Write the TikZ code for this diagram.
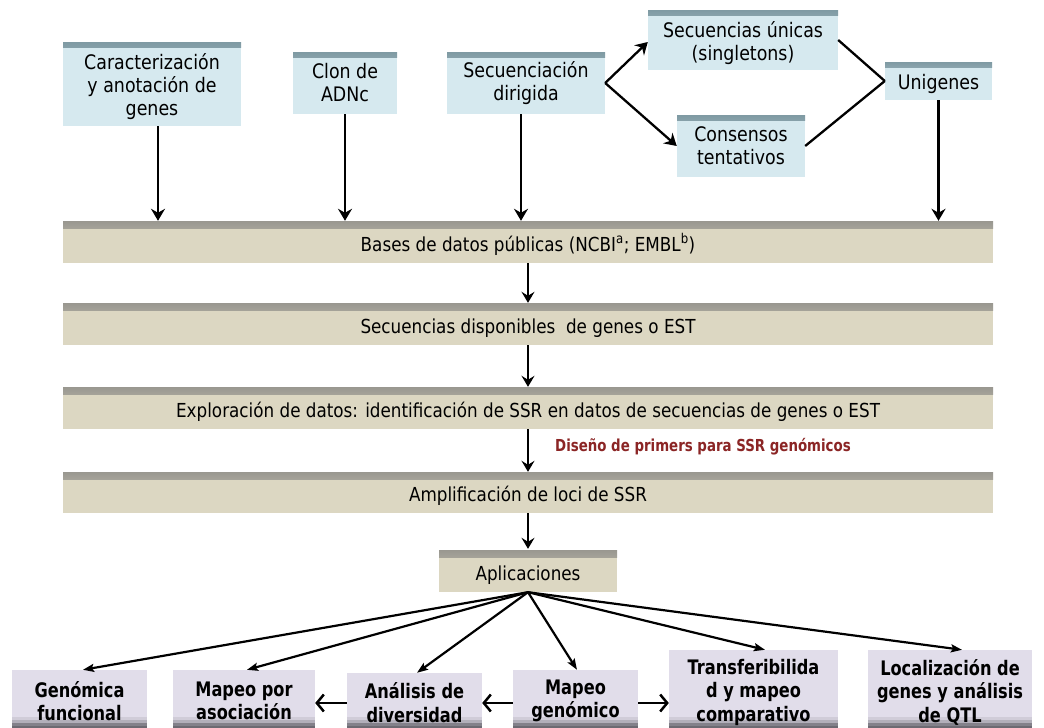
\documentclass[tikz,border=0pt]{standalone}
\usepackage{fontspec}
\setmainfont{DejaVu Sans}[FakeStretch=0.87]
\newfontfamily\bsf{DejaVu Sans}[FakeStretch=0.81]
\usetikzlibrary{arrows.meta}
\definecolor{bluebg}{HTML}{D6E9EF}
\definecolor{bluetop}{HTML}{7F9AA3}
\definecolor{barbg}{HTML}{DCD7C2}
\definecolor{bartop}{HTML}{999790}
\definecolor{lavbg}{HTML}{E1DDEA}
\definecolor{lavbot}{HTML}{6C6A72}
\definecolor{redtxt}{HTML}{8B2525}
\tikzset{
  bluebox/.style={fill=bluebg, inner sep=0pt, align=center,
    font=\fontsize{20}{23}\selectfont,
    path picture={\shade[top color=bluetop, bottom color=bluebg]
      (path picture bounding box.north west) rectangle ([yshift=-5pt]path picture bounding box.north east);}},
  btxt/.style={inner sep=0pt, align=center, font=\fontsize{20}{23}\selectfont},
  barbox/.style={fill=barbg, inner sep=0pt, align=center,
    minimum height=42pt, text height=18.5pt, text depth=0pt,
    font=\fontsize{19.3}{23}\selectfont,
    path picture={\shade[top color=bartop, bottom color=barbg]
      (path picture bounding box.north west) rectangle ([yshift=-7pt]path picture bounding box.north east);}},
  appbox/.style={fill=lavbg, inner sep=0pt, align=center,
    font=\bsf\bfseries\fontsize{20}{22.5}\selectfont},
  atxt/.style={inner sep=0pt, align=center, font=\bsf\bfseries\fontsize{20}{23.5}\selectfont},
  toparr/.style={line width=2.3pt, -{Stealth[length=12pt,width=14pt,inset=4pt]}},
  midarr/.style={line width=2pt, -{Stealth[length=11pt,width=13pt,inset=4pt]}},
  fanarr/.style={line width=2.2pt, -{Stealth[length=11pt,width=8pt,inset=2pt]}},
  hzarr/.style={line width=2.5pt, -{Straight Barb[length=7pt,width=17pt,line width=2.5pt]}},
  plain/.style={line width=2.3pt}
}
\begin{document}
\begin{tikzpicture}[x=1pt,y=-1pt]
\useasboundingbox[fill=white] (0,0) rectangle (1044,728);

% top boxes
\node[bluebox, minimum width=178pt, minimum height=84pt,
  label={[btxt, yshift=-3pt]center:{Caracterización\\y anotación de\\genes}}] (car) at (152,84) {};
\node[bluebox, minimum width=104pt, minimum height=62pt] (clon) at (345,83) {Clon de\\ADNc};
\node[bluebox, minimum width=158pt, minimum height=62pt] (secd) at (526,83) {Secuenciación\\dirigida};
\node[bluebox, minimum width=190pt, minimum height=60pt,
  label={[btxt, yshift=-3pt]center:{Secuencias únicas\\(singletons)}}] (sing) at (743,40) {};
\node[bluebox, minimum width=128pt, minimum height=62pt] (cons) at (741,146) {Consensos\\tentativos};
\node[bluebox, minimum width=107pt, minimum height=38pt, text height=17pt, text depth=0pt] (uni) at (938.5,81) {Unigenes};

% bars
\node[barbox, minimum width=930pt] (bar1) at (528,242) {Bases de datos públicas (NCBI\textsuperscript{a}; EMBL\textsuperscript{b})};
\node[barbox, minimum width=930pt] (bar2) at (528,324) {Secuencias disponibles\ \ de genes o EST};
\node[barbox, minimum width=930pt] (bar3) at (528,408) {Exploración de datos: identificación de SSR en datos de secuencias de genes o EST};
\node[barbox, minimum width=930pt, minimum height=41pt] (bar4) at (528,492.5) {Amplificación de loci de SSR};
\node[barbox, minimum width=178pt] (apl) at (528,571) {Aplicaciones};
\node[anchor=west, text=redtxt, inner sep=0pt, font=\bsf\bfseries\fontsize{16.5}{18}\selectfont] (dis) at (555,447) {Diseño de primers para SSR genómicos};

% bottom boxes
\node[appbox, minimum width=135pt, minimum height=58pt] (gen) at (79.5,699) {};
\node[appbox, minimum width=142pt, minimum height=58pt] (aso) at (244,699) {};
\node[appbox, minimum width=135pt, minimum height=55pt] (ana) at (414.5,700.5) {};
\node[appbox, minimum width=125pt, minimum height=58pt] (gmc) at (575.5,699) {};
\node[appbox, minimum width=169pt, minimum height=78pt] (tra) at (753.5,689) {};
\node[appbox, minimum width=164pt, minimum height=78pt] (loc) at (950,689) {};
\foreach \n in {gen,aso,ana,gmc,tra,loc}{
  \fill[lavbot!15!lavbg] ([yshift=11pt]\n.south west) rectangle ([yshift=8pt]\n.south east);
  \fill[lavbot!40!lavbg] ([yshift=8pt]\n.south west) rectangle ([yshift=5pt]\n.south east);
  \fill[lavbot!80!lavbg] ([yshift=5pt]\n.south west) rectangle ([yshift=2pt]\n.south east);
  \fill[lavbot] ([yshift=2pt]\n.south west) rectangle (\n.south east);
}
\node[atxt] (gent) at ([yshift=-2pt]gen.center) {Genómica\\funcional};
\node[atxt] (asot) at ([yshift=-2pt]aso.center) {Mapeo por\\asociación};
\node[atxt] (anat) at ([yshift=-2pt]ana.center) {Análisis de\\diversidad};
\node[atxt] (gmct) at ([yshift=-2pt]gmc.center) {Mapeo\\genómico};
\node[atxt] (trat) at ([yshift=-3pt]tra.center) {Transferibilida\\d y mapeo\\comparativo};
\node[atxt] (loct) at ([yshift=-3pt]loc.center) {Localización de\\genes y análisis\\de QTL};

% top connectors
\draw[toparr] ([xshift=6pt]car.south) -- ([xshift=6pt]car.south |- bar1.north);
\draw[toparr] (clon.south) -- (clon.south |- bar1.north);
\draw[toparr] ([xshift=-5pt]secd.south) -- ([xshift=-5pt]secd.south |- bar1.north);
\draw[toparr] (uni.south) -- (uni.south |- bar1.north);
\draw[toparr] (secd.east) -- ([yshift=-2pt]sing.west);
\draw[toparr] (secd.east) -- (cons.west);
\draw[plain] (sing.east) -- (uni.west);
\draw[plain] (cons.east) -- (uni.west);

% middle connectors
\draw[midarr] (bar1.south) -- (bar2.north);
\draw[midarr] (bar2.south) -- (bar3.north);
\draw[midarr] (bar3.south) -- (bar4.north);
\draw[midarr] (bar4.south) -- ([yshift=1pt]apl.north);

% fan
\draw[fanarr] (apl.south) -- ([xshift=3.5pt]gen.north);
\draw[fanarr] (apl.south) -- ([xshift=3pt]aso.north);
\draw[fanarr] (apl.south) -- ([xshift=2.5pt]ana.north);
\draw[fanarr] (apl.south) -- ([xshift=1.5pt]gmc.north);
\draw[fanarr] (apl.south) -- ([xshift=11.5pt]tra.north);
\draw[fanarr] (apl.south) -- ([xshift=12pt]loc.north);

% horizontal
\coordinate (h1) at ([yshift=-4pt]gmc.west);
\coordinate (h2) at ([yshift=-2.5pt]ana.west);
\coordinate (h3) at ([yshift=-4pt]gmc.east);
\draw[hzarr] (h1) -- (h1 -| ana.east);
\draw[hzarr] (h2) -- (h2 -| aso.east);
\draw[hzarr] (h3) -- (h3 -| tra.west);
\end{tikzpicture}
\end{document}
